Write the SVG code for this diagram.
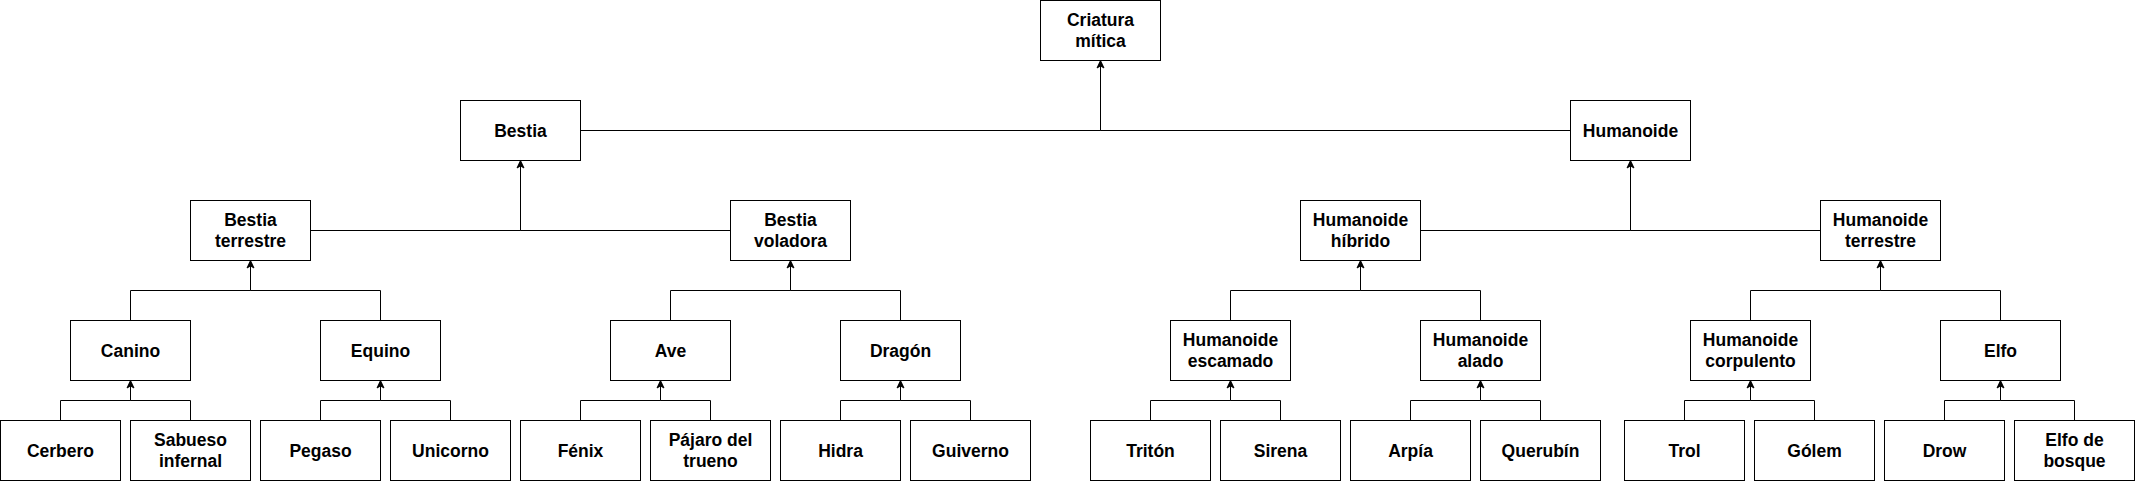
<svg xmlns="http://www.w3.org/2000/svg" width="2135" height="481" viewBox="0 0 2135 481">
<style>
.box{fill:#ffffff;stroke:#000000;stroke-width:1}
.lbl{font-family:"Liberation Sans",Arial,Helvetica,sans-serif;font-size:17.5px;font-weight:bold;fill:#000000;text-anchor:middle}
.edge{fill:none;stroke:#000000;stroke-width:1}
</style>
<defs>
<marker id="arr" markerUnits="userSpaceOnUse" viewBox="-8 -5 9 10" markerWidth="9" markerHeight="10" refX="0" refY="0" orient="auto">
<path d="M0,0 L-7.5,-3.5 L-5.5,0 L-7.5,3.5 Z" fill="#000000" stroke="#000000" stroke-width="0.5"/>
</marker>
</defs>
<rect width="2135" height="481" fill="#ffffff"/>
<g transform="translate(0.5,0.5)">
<g id="connectors">
<path class="edge" marker-end="url(#arr)" d="M580,130 H1100 V60"/>
<path class="edge" marker-end="url(#arr)" d="M1570,130 H1100 V60"/>
<path class="edge" marker-end="url(#arr)" d="M310,230 H520 V160"/>
<path class="edge" marker-end="url(#arr)" d="M730,230 H520 V160"/>
<path class="edge" marker-end="url(#arr)" d="M1420,230 H1630 V160"/>
<path class="edge" marker-end="url(#arr)" d="M1820,230 H1630 V160"/>
<path class="edge" marker-end="url(#arr)" d="M130,320 V290 H250 V260"/>
<path class="edge" marker-end="url(#arr)" d="M380,320 V290 H250 V260"/>
<path class="edge" marker-end="url(#arr)" d="M670,320 V290 H790 V260"/>
<path class="edge" marker-end="url(#arr)" d="M900,320 V290 H790 V260"/>
<path class="edge" marker-end="url(#arr)" d="M1230,320 V290 H1360 V260"/>
<path class="edge" marker-end="url(#arr)" d="M1480,320 V290 H1360 V260"/>
<path class="edge" marker-end="url(#arr)" d="M1750,320 V290 H1880 V260"/>
<path class="edge" marker-end="url(#arr)" d="M2000,320 V290 H1880 V260"/>
<path class="edge" marker-end="url(#arr)" d="M60,420 V400 H130 V380"/>
<path class="edge" marker-end="url(#arr)" d="M190,420 V400 H130 V380"/>
<path class="edge" marker-end="url(#arr)" d="M320,420 V400 H380 V380"/>
<path class="edge" marker-end="url(#arr)" d="M450,420 V400 H380 V380"/>
<path class="edge" marker-end="url(#arr)" d="M580,420 V400 H660 V380"/>
<path class="edge" marker-end="url(#arr)" d="M710,420 V400 H660 V380"/>
<path class="edge" marker-end="url(#arr)" d="M840,420 V400 H900 V380"/>
<path class="edge" marker-end="url(#arr)" d="M970,420 V400 H900 V380"/>
<path class="edge" marker-end="url(#arr)" d="M1150,420 V400 H1230 V380"/>
<path class="edge" marker-end="url(#arr)" d="M1280,420 V400 H1230 V380"/>
<path class="edge" marker-end="url(#arr)" d="M1410,420 V400 H1480 V380"/>
<path class="edge" marker-end="url(#arr)" d="M1540,420 V400 H1480 V380"/>
<path class="edge" marker-end="url(#arr)" d="M1684,420 V400 H1750 V380"/>
<path class="edge" marker-end="url(#arr)" d="M1814,420 V400 H1750 V380"/>
<path class="edge" marker-end="url(#arr)" d="M1944,420 V400 H2000 V380"/>
<path class="edge" marker-end="url(#arr)" d="M2074,420 V400 H2000 V380"/>
</g>
<g id="criatura-mitica"><rect class="box" x="1040" y="0" width="120" height="60"/><text class="lbl" x="1100" y="25.5">Criatura</text><text class="lbl" x="1100" y="46.5">mítica</text></g>
<g id="bestia"><rect class="box" x="460" y="100" width="120" height="60"/><text class="lbl" x="520" y="136.5">Bestia</text></g>
<g id="humanoide"><rect class="box" x="1570" y="100" width="120" height="60"/><text class="lbl" x="1630" y="136.5">Humanoide</text></g>
<g id="bestia-terrestre"><rect class="box" x="190" y="200" width="120" height="60"/><text class="lbl" x="250" y="225.5">Bestia</text><text class="lbl" x="250" y="246.5">terrestre</text></g>
<g id="bestia-voladora"><rect class="box" x="730" y="200" width="120" height="60"/><text class="lbl" x="790" y="225.5">Bestia</text><text class="lbl" x="790" y="246.5">voladora</text></g>
<g id="humanoide-hibrido"><rect class="box" x="1300" y="200" width="120" height="60"/><text class="lbl" x="1360" y="225.5">Humanoide</text><text class="lbl" x="1360" y="246.5">híbrido</text></g>
<g id="humanoide-terrestre"><rect class="box" x="1820" y="200" width="120" height="60"/><text class="lbl" x="1880" y="225.5">Humanoide</text><text class="lbl" x="1880" y="246.5">terrestre</text></g>
<g id="canino"><rect class="box" x="70" y="320" width="120" height="60"/><text class="lbl" x="130" y="356.5">Canino</text></g>
<g id="equino"><rect class="box" x="320" y="320" width="120" height="60"/><text class="lbl" x="380" y="356.5">Equino</text></g>
<g id="ave"><rect class="box" x="610" y="320" width="120" height="60"/><text class="lbl" x="670" y="356.5">Ave</text></g>
<g id="dragon"><rect class="box" x="840" y="320" width="120" height="60"/><text class="lbl" x="900" y="356.5">Dragón</text></g>
<g id="humanoide-escamado"><rect class="box" x="1170" y="320" width="120" height="60"/><text class="lbl" x="1230" y="345.5">Humanoide</text><text class="lbl" x="1230" y="366.5">escamado</text></g>
<g id="humanoide-alado"><rect class="box" x="1420" y="320" width="120" height="60"/><text class="lbl" x="1480" y="345.5">Humanoide</text><text class="lbl" x="1480" y="366.5">alado</text></g>
<g id="humanoide-corpulento"><rect class="box" x="1690" y="320" width="120" height="60"/><text class="lbl" x="1750" y="345.5">Humanoide</text><text class="lbl" x="1750" y="366.5">corpulento</text></g>
<g id="elfo"><rect class="box" x="1940" y="320" width="120" height="60"/><text class="lbl" x="2000" y="356.5">Elfo</text></g>
<g id="cerbero"><rect class="box" x="0" y="420" width="120" height="60"/><text class="lbl" x="60" y="456.5">Cerbero</text></g>
<g id="sabueso-infernal"><rect class="box" x="130" y="420" width="120" height="60"/><text class="lbl" x="190" y="445.5">Sabueso</text><text class="lbl" x="190" y="466.5">infernal</text></g>
<g id="pegaso"><rect class="box" x="260" y="420" width="120" height="60"/><text class="lbl" x="320" y="456.5">Pegaso</text></g>
<g id="unicorno"><rect class="box" x="390" y="420" width="120" height="60"/><text class="lbl" x="450" y="456.5">Unicorno</text></g>
<g id="fenix"><rect class="box" x="520" y="420" width="120" height="60"/><text class="lbl" x="580" y="456.5">Fénix</text></g>
<g id="pajaro-del-trueno"><rect class="box" x="650" y="420" width="120" height="60"/><text class="lbl" x="710" y="445.5">Pájaro del</text><text class="lbl" x="710" y="466.5">trueno</text></g>
<g id="hidra"><rect class="box" x="780" y="420" width="120" height="60"/><text class="lbl" x="840" y="456.5">Hidra</text></g>
<g id="guiverno"><rect class="box" x="910" y="420" width="120" height="60"/><text class="lbl" x="970" y="456.5">Guiverno</text></g>
<g id="triton"><rect class="box" x="1090" y="420" width="120" height="60"/><text class="lbl" x="1150" y="456.5">Tritón</text></g>
<g id="sirena"><rect class="box" x="1220" y="420" width="120" height="60"/><text class="lbl" x="1280" y="456.5">Sirena</text></g>
<g id="arpia"><rect class="box" x="1350" y="420" width="120" height="60"/><text class="lbl" x="1410" y="456.5">Arpía</text></g>
<g id="querubin"><rect class="box" x="1480" y="420" width="120" height="60"/><text class="lbl" x="1540" y="456.5">Querubín</text></g>
<g id="trol"><rect class="box" x="1624" y="420" width="120" height="60"/><text class="lbl" x="1684" y="456.5">Trol</text></g>
<g id="golem"><rect class="box" x="1754" y="420" width="120" height="60"/><text class="lbl" x="1814" y="456.5">Gólem</text></g>
<g id="drow"><rect class="box" x="1884" y="420" width="120" height="60"/><text class="lbl" x="1944" y="456.5">Drow</text></g>
<g id="elfo-de-bosque"><rect class="box" x="2014" y="420" width="120" height="60"/><text class="lbl" x="2074" y="445.5">Elfo de</text><text class="lbl" x="2074" y="466.5">bosque</text></g>
</g>
</svg>
